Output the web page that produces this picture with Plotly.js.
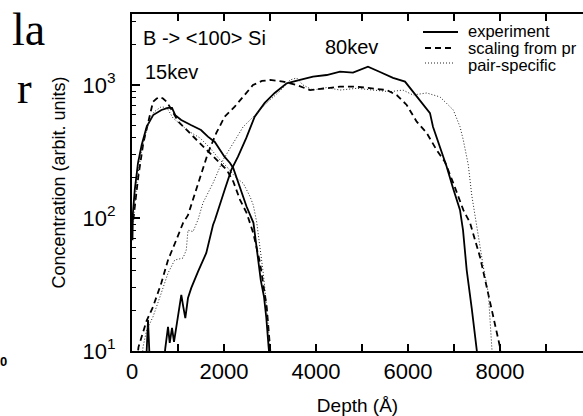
<!DOCTYPE html>
<html>
<head>
<meta charset="utf-8">
<script src="https://cdn.plot.ly/plotly-3.0.1.min.js"></script>
<style>
html,body{margin:0;padding:0;background:#fff;overflow:hidden;}
#chart{width:583px;height:416px;}
</style>
</head>
<body>
<div id="chart"></div>
<script>
// 15 keV, experiment
const depth15Exp = [10, 20, 60, 130, 210, 320, 460, 640, 780, 870, 940, 1070, 1280, 1500, 1650, 1800, 2010, 2130, 2200, 2350, 2490, 2640, 2710, 2800, 2870, 2920, 2970, 3000];
const conc15Exp  = [68, 109, 163, 259, 354, 486, 594, 649, 672, 672, 594, 546, 500, 459, 409, 373, 289, 259, 238, 171, 122, 92, 61, 34, 25.5, 17.7, 10.7, 8.3];
// 15 keV, scaling from projectile
const depth15Scal = [28, 137, 246, 391, 457, 537, 609, 674, 754, 863, 1007, 1189, 1407, 1587, 1767, 1913, 2059, 2202, 2348, 2493, 2637, 2783, 2928, 2993, 3020];
const conc15Scal  = [97, 205, 366, 578, 748, 791, 813, 791, 748, 649, 530, 459, 386, 336, 289, 259, 230, 188, 137, 109, 77, 46, 21.5, 11.5, 8.6];
// 15 keV, pair-specific
const depth15Pair = [22, 109, 217, 348, 478, 637, 761, 891, 1043, 1261, 1478, 1696, 1913, 2059, 2239, 2420, 2565, 2637, 2711, 2783, 2854, 2924, 2993, 3020];
const conc15Pair  = [89, 193, 336, 500, 627, 687, 672, 565, 509, 443, 400, 336, 273, 243, 205, 182, 145, 125, 93, 61, 38.5, 22.2, 11.5, 8.6];
// 80 keV, experiment
const depth80Exp = [315, 348, 380, 696, 724, 783, 820, 870, 913, 985, 1072, 1115, 1159, 1217, 1289, 1435, 1615, 1761, 1804, 2015, 2159, 2304, 2485, 2667, 2885, 3102, 3363, 3652, 3935, 4233, 4522, 4804, 5130, 5391, 5674, 5935, 6109, 6261, 6478, 6543, 6696, 6841, 6978, 7130, 7196, 7276, 7385, 7493, 7522];
const conc80Exp  = [9.3, 17.1, 9.3, 8.5, 10.5, 15.2, 11.5, 14.9, 11.7, 17.1, 26.4, 21.5, 17.7, 25, 29.8, 39.5, 54.6, 88.5, 97, 163, 230, 289, 400, 578, 733, 871, 1030, 1091, 1155, 1189, 1259, 1241, 1374, 1253, 1130, 1060, 891, 771, 615, 486, 344, 243, 168, 115, 81, 40.6, 21, 10.8, 8.5];
// 80 keV, scaling from projectile
const depth80Scal = [109, 141, 315, 457, 637, 783, 963, 1109, 1217, 1472, 1652, 1833, 2015, 2233, 2450, 2630, 2826, 3000, 3283, 3580, 3870, 4152, 4522, 4885, 5239, 5537, 5754, 5972, 6189, 6406, 6624, 6804, 6985, 7202, 7348, 7457, 7565, 7711, 7848, 7963, 8000, 8020];
const conc80Scal  = [8.5, 10.7, 16.8, 21.5, 32.4, 48.3, 68.4, 91.6, 105, 193, 308, 436, 578, 687, 841, 1000, 1072, 1091, 1060, 1000, 916, 944, 971, 971, 944, 916, 841, 708, 530, 436, 324, 264, 183, 115, 92, 68, 51, 30.3, 18.1, 12.1, 10.7, 8.5];
// 80 keV, pair-specific
const depth80Pair = [217, 239, 320, 457, 637, 783, 928, 1109, 1180, 1217, 1326, 1435, 1543, 1761, 1978, 2196, 2413, 2630, 2928, 3217, 3435, 3580, 3717, 3935, 4233, 4522, 4885, 5239, 5609, 5891, 6109, 6406, 6696, 6985, 7130, 7202, 7311, 7385, 7493, 7565, 7637, 7746, 7783, 7820, 7840];
const conc80Pair  = [8.5, 10.7, 14.4, 18.1, 27.3, 38.5, 48.3, 50, 57.5, 81, 79, 97, 130, 183, 273, 366, 483, 574, 733, 901, 1091, 1130, 1000, 916, 957, 916, 944, 916, 891, 916, 841, 871, 813, 649, 486, 386, 250, 149, 86, 62.6, 43, 27.3, 16.3, 10.8, 8.5];

const xTickVals = [0, 2000, 4000, 6000, 8000];
const xTickText = ['0', '2000', '4000', '6000', '8000'];
const xMinorVals = [1000, 3000, 5000, 7000, 9000];
const yTickVals = [10, 100, 1000];
const yTickText = ['10<sup>1</sup>', '10<sup>2</sup>', '10<sup>3</sup>'];
const yMinorVals = [20, 30, 40, 50, 60, 70, 80, 90, 200, 300, 400, 500, 600, 700, 800, 900, 2000, 3000];

const legendNames = ['experiment', 'scaling from pr', 'pair-specific'];

const solid = {color: '#000', width: 1.8, dash: 'solid'};
const dashed = {color: '#000', width: 1.8, dash: '6px,4px'};
const dotted = {color: '#222', width: 1, dash: '1px,2px'};

function tr(x, y, line, name) {
  return {x: x, y: y, type: 'scatter', mode: 'lines', line: line, name: name, showlegend: false, hoverinfo: 'skip'};
}

const data = [
  tr(depth15Exp, conc15Exp, solid, legendNames[0]),
  tr(depth15Scal, conc15Scal, dashed, legendNames[1]),
  tr(depth15Pair, conc15Pair, dotted, legendNames[2]),
  tr(depth80Exp, conc80Exp, solid, legendNames[0]),
  tr(depth80Scal, conc80Scal, dashed, legendNames[1]),
  tr(depth80Pair, conc80Pair, dotted, legendNames[2])
];

const W = 583, H = 416, L = 132, T = 14, B = 65;
const pw = W - L, ph = H - T - B;
function px(x) { return (x - L) / pw; }
function py(y) { return (H - B - y) / ph; }

const font = 'Arial, "Liberation Sans", Helvetica, sans-serif';
const serif = '"Liberation Serif", "Times New Roman", serif';

const shapes = [
  {type: 'line', xref: 'paper', yref: 'paper', x0: px(423), x1: px(458), y0: py(32), y1: py(32), line: solid},
  {type: 'line', xref: 'paper', yref: 'paper', x0: px(425), x1: px(454), y0: py(48), y1: py(48), line: dashed},
  {type: 'line', xref: 'paper', yref: 'paper', x0: px(425), x1: px(454), y0: py(63), y1: py(63), line: dotted}
];

const ann = (text, x, y, size, fam) => ({
  text: text, xref: 'paper', yref: 'paper', x: px(x), y: py(y), xanchor: 'left', yanchor: 'middle',
  showarrow: false, borderpad: 0, font: {family: fam || font, size: size, color: '#000'}
});

const annotations = [
  ann('B -&gt; &lt;100&gt; Si', 142, 38, 20),
  ann('15kev', 144, 72, 20),
  ann('80kev', 324, 47, 20),
  ann(legendNames[0], 467, 31, 16.5),
  ann(legendNames[1], 467, 48, 16.5),
  ann(legendNames[2], 467, 65, 16.5),
  ann('la', 11, 30, 46, serif),
  ann('r', 16, 88, 44, serif),
  ann('<b>0</b>', -1, 362, 13)
];

const layout = {
  width: W, height: H,
  margin: {l: L, r: 0, t: T, b: B, pad: 0},
  paper_bgcolor: '#fff', plot_bgcolor: '#fff',
  showlegend: false,
  font: {family: font, color: '#000'},
  xaxis: {
    type: 'linear', range: [0, pw / 0.046],
    tickmode: 'array', tickvals: xTickVals, ticktext: xTickText,
    ticks: 'inside', ticklen: 7, tickwidth: 1.5, tickcolor: '#000',
    minor: {tickmode: 'array', tickvals: xMinorVals, ticks: 'inside', ticklen: 7, tickwidth: 1.5, tickcolor: '#000', showgrid: false},
    showline: true, linecolor: '#000', linewidth: 2, mirror: 'ticks',
    showgrid: false, zeroline: false,
    tickfont: {family: font, size: 22, color: '#000'},
    ticklabelstandoff: 0,
    title: {text: 'Depth (Å)', font: {family: font, size: 19, color: '#000'}, standoff: 20}
  },
  yaxis: {
    type: 'log', range: [1, 1 + ph / 133],
    tickmode: 'array', tickvals: yTickVals, ticktext: yTickText,
    ticks: 'inside', ticklen: 8, tickwidth: 1.5, tickcolor: '#000',
    minor: {tickmode: 'array', tickvals: yMinorVals, ticks: 'inside', ticklen: 4, tickwidth: 1, tickcolor: '#000', showgrid: false},
    showline: true, linecolor: '#000', linewidth: 2, mirror: false,
    showgrid: false, zeroline: false,
    tickfont: {family: font, size: 22, color: '#000'},
    ticklabelstandoff: 10,
    title: {text: 'Concentration (arbit. units)', font: {family: font, size: 18, color: '#000'}, standoff: 12}
  },
  shapes: shapes,
  annotations: annotations
};

Plotly.newPlot('chart', data, layout, {staticPlot: true, displayModeBar: false});
</script>
</body>
</html>
